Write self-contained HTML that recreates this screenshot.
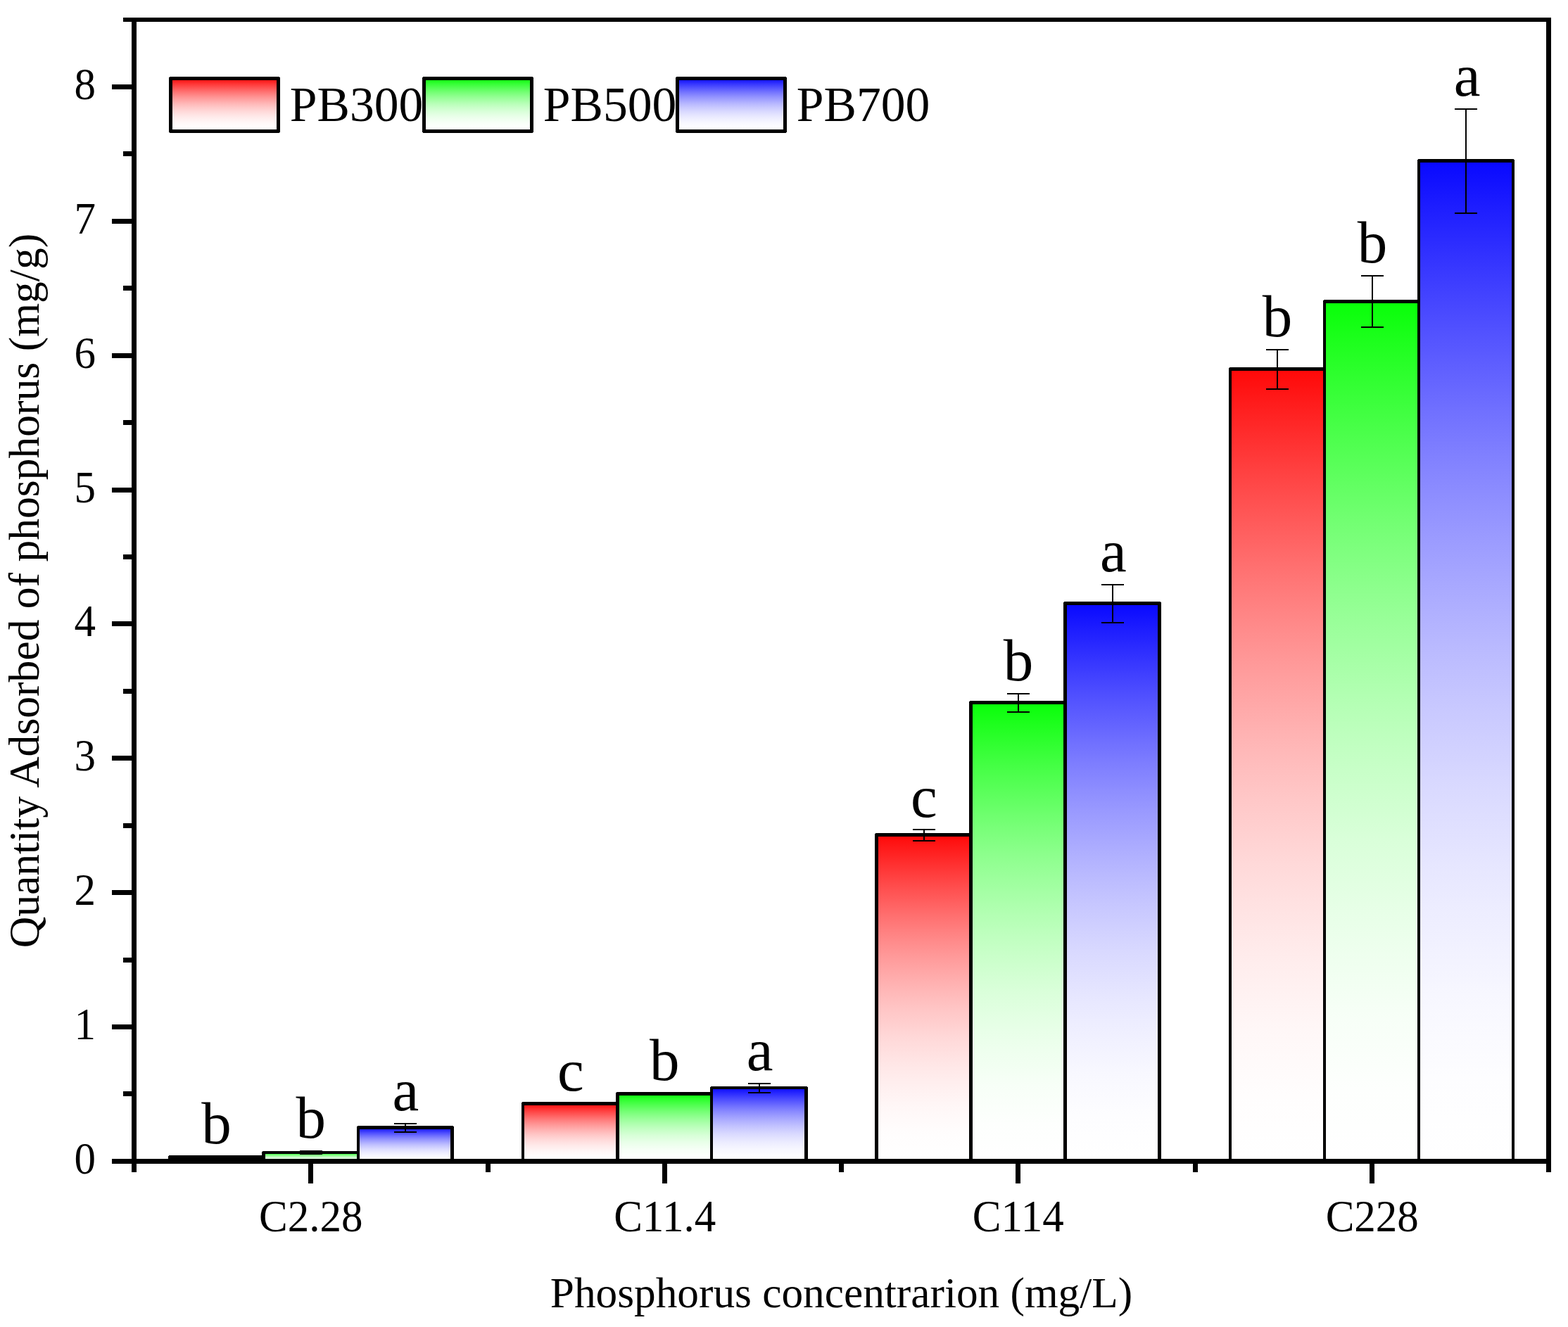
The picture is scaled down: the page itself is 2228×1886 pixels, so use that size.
<!DOCTYPE html>
<html lang="en"><head><meta charset="utf-8"><title>Quantity Adsorbed of phosphorus</title>
<style>
html,body{margin:0;padding:0;background:#fff;}
body{width:2228px;height:1886px;}
svg{display:block;}
text{font-family:"Liberation Serif","Times New Roman",Times,serif;fill:#000;}
.tk{font-size:61px;}
.tt{font-size:61.3px;text-anchor:middle;}
.lg{font-size:69.6px;}
.lt{font-size:85px;text-anchor:middle;}
.k{fill:#000;stroke:none;shape-rendering:crispEdges;}
.f{stroke:none;shape-rendering:crispEdges;}
</style></head><body>
<svg width="2228" height="1886" viewBox="0 0 2228 1886">
<defs>
<linearGradient id="gr" x1="0" y1="0" x2="0" y2="1">
<stop offset="0.0000" stop-color="#ff0808"/><stop offset="0.0417" stop-color="#ff1b1b"/><stop offset="0.0833" stop-color="#ff2d2d"/><stop offset="0.1250" stop-color="#ff3f3f"/><stop offset="0.1667" stop-color="#ff5050"/><stop offset="0.2083" stop-color="#ff6060"/><stop offset="0.2500" stop-color="#ff7070"/><stop offset="0.2917" stop-color="#ff7f7f"/><stop offset="0.3333" stop-color="#ff8d8d"/><stop offset="0.3750" stop-color="#ff9a9a"/><stop offset="0.4167" stop-color="#ffa6a6"/><stop offset="0.4583" stop-color="#ffb2b2"/><stop offset="0.5000" stop-color="#ffbdbd"/><stop offset="0.5417" stop-color="#ffc7c7"/><stop offset="0.5833" stop-color="#ffd0d0"/><stop offset="0.6250" stop-color="#ffd9d9"/><stop offset="0.6667" stop-color="#ffe0e0"/><stop offset="0.7083" stop-color="#ffe7e7"/><stop offset="0.7500" stop-color="#ffeded"/><stop offset="0.7917" stop-color="#fff2f2"/><stop offset="0.8333" stop-color="#fff7f7"/><stop offset="0.8750" stop-color="#fffafa"/><stop offset="0.9167" stop-color="#fffdfd"/><stop offset="0.9583" stop-color="#fffefe"/><stop offset="1.0000" stop-color="#ffffff"/>
</linearGradient>
<linearGradient id="gg" x1="0" y1="0" x2="0" y2="1">
<stop offset="0.0000" stop-color="#08ff08"/><stop offset="0.0417" stop-color="#1bff1b"/><stop offset="0.0833" stop-color="#2dff2d"/><stop offset="0.1250" stop-color="#3fff3f"/><stop offset="0.1667" stop-color="#50ff50"/><stop offset="0.2083" stop-color="#60ff60"/><stop offset="0.2500" stop-color="#70ff70"/><stop offset="0.2917" stop-color="#7fff7f"/><stop offset="0.3333" stop-color="#8dff8d"/><stop offset="0.3750" stop-color="#9aff9a"/><stop offset="0.4167" stop-color="#a6ffa6"/><stop offset="0.4583" stop-color="#b2ffb2"/><stop offset="0.5000" stop-color="#bdffbd"/><stop offset="0.5417" stop-color="#c7ffc7"/><stop offset="0.5833" stop-color="#d0ffd0"/><stop offset="0.6250" stop-color="#d9ffd9"/><stop offset="0.6667" stop-color="#e0ffe0"/><stop offset="0.7083" stop-color="#e7ffe7"/><stop offset="0.7500" stop-color="#edffed"/><stop offset="0.7917" stop-color="#f2fff2"/><stop offset="0.8333" stop-color="#f7fff7"/><stop offset="0.8750" stop-color="#fafffa"/><stop offset="0.9167" stop-color="#fdfffd"/><stop offset="0.9583" stop-color="#fefffe"/><stop offset="1.0000" stop-color="#ffffff"/>
</linearGradient>
<linearGradient id="gb" x1="0" y1="0" x2="0" y2="1">
<stop offset="0.0000" stop-color="#0808ff"/><stop offset="0.0417" stop-color="#1b1bff"/><stop offset="0.0833" stop-color="#2d2dff"/><stop offset="0.1250" stop-color="#3f3fff"/><stop offset="0.1667" stop-color="#5050ff"/><stop offset="0.2083" stop-color="#6060ff"/><stop offset="0.2500" stop-color="#7070ff"/><stop offset="0.2917" stop-color="#7f7fff"/><stop offset="0.3333" stop-color="#8d8dff"/><stop offset="0.3750" stop-color="#9a9aff"/><stop offset="0.4167" stop-color="#a6a6ff"/><stop offset="0.4583" stop-color="#b2b2ff"/><stop offset="0.5000" stop-color="#bdbdff"/><stop offset="0.5417" stop-color="#c7c7ff"/><stop offset="0.5833" stop-color="#d0d0ff"/><stop offset="0.6250" stop-color="#d9d9ff"/><stop offset="0.6667" stop-color="#e0e0ff"/><stop offset="0.7083" stop-color="#e7e7ff"/><stop offset="0.7500" stop-color="#ededff"/><stop offset="0.7917" stop-color="#f2f2ff"/><stop offset="0.8333" stop-color="#f7f7ff"/><stop offset="0.8750" stop-color="#fafaff"/><stop offset="0.9167" stop-color="#fdfdff"/><stop offset="0.9583" stop-color="#fefeff"/><stop offset="1.0000" stop-color="#ffffff"/>
</linearGradient>
</defs>
<rect x="0" y="0" width="2228" height="1886" fill="#ffffff"/>
<g class="f">
<rect x="241.5" y="1644.5" width="133" height="6" fill="url(#gr)"/>
<rect x="374.5" y="1638" width="134.5" height="12.5" fill="url(#gg)"/>
<rect x="509" y="1602.5" width="133.5" height="48" fill="url(#gb)"/>
<rect x="743" y="1568.5" width="134.5" height="82" fill="url(#gr)"/>
<rect x="877.5" y="1554.5" width="133.5" height="96" fill="url(#gg)"/>
<rect x="1011" y="1546" width="134.5" height="104.5" fill="url(#gb)"/>
<rect x="1245.5" y="1186.5" width="134" height="464" fill="url(#gr)"/>
<rect x="1379.5" y="998.5" width="134" height="652" fill="url(#gg)"/>
<rect x="1513.5" y="857.5" width="134" height="793" fill="url(#gb)"/>
<rect x="1748" y="524.5" width="134" height="1126" fill="url(#gr)"/>
<rect x="1882" y="428.5" width="134" height="1222" fill="url(#gg)"/>
<rect x="2016" y="228.5" width="134" height="1422" fill="url(#gb)"/>
</g>
<path class="k" d="M239 1642H377V1647H239ZM239 1642H244V1650H239ZM372 1642H377V1650H372ZM372 1636H511V1640H372ZM372 1636H377V1650H372ZM507 1636H511V1650H507ZM507 1600H645V1605H507ZM507 1600H511V1650H507ZM640 1600H645V1650H640ZM741 1566H880V1571H741ZM741 1566H745V1650H741ZM875 1566H880V1650H875ZM875 1552H1013V1557H875ZM875 1552H880V1650H875ZM1009 1552H1013V1650H1009ZM1009 1544H1148V1548H1009ZM1009 1544H1013V1650H1009ZM1143 1544H1148V1650H1143ZM1243 1184H1382V1189H1243ZM1243 1184H1248V1650H1243ZM1377 1184H1382V1650H1377ZM1377 996H1516V1001H1377ZM1377 996H1382V1650H1377ZM1511 996H1516V1650H1511ZM1511 855H1650V860H1511ZM1511 855H1516V1650H1511ZM1645 855H1650V1650H1645ZM1746 522H1884V527H1746ZM1746 522H1750V1650H1746ZM1880 522H1884V1650H1880ZM1880 426H2018V431H1880ZM1880 426H1884V1650H1880ZM2014 426H2018V1650H2014ZM2014 226H2152V231H2014ZM2014 226H2018V1650H2014ZM2148 226H2152V1650H2148Z"/>
<path class="k" d="M426 1635H458V1637H426ZM426 1639H458V1641H426ZM441 1635H443V1641H441ZM560 1596H592V1598H560ZM560 1608H592V1610H560ZM575 1596H577V1610H575ZM1063 1539H1095V1541H1063ZM1063 1552H1095V1554H1063ZM1078 1539H1080V1554H1078ZM1297 1178H1329V1180H1297ZM1297 1194H1329V1196H1297ZM1312 1178H1314V1196H1312ZM1431 985H1463V987H1431ZM1431 1011H1463V1013H1431ZM1446 985H1448V1013H1446ZM1565 830H1597V832H1565ZM1565 884H1597V886H1565ZM1580 830H1582V886H1580ZM1799 496H1831V498H1799ZM1799 552H1831V554H1799ZM1814 496H1816V554H1814ZM1934 391H1966V393H1934ZM1934 464H1966V466H1934ZM1949 391H1951V466H1949ZM2067 154H2099V156H2067ZM2067 302H2099V304H2067ZM2082 154H2084V304H2082Z"/>
<path class="k" d="M175 25H2204V31H175ZM159 1647H2204V1654H159ZM187 25H194V1666H187ZM2197 25H2204V1666H2197ZM159 1456H187V1463H159ZM159 1265H187V1272H159ZM159 1074H187V1081H159ZM159 883H187V890H159ZM159 693H187V700H159ZM159 502H187V509H159ZM159 311H187V318H159ZM159 120H187V127H159ZM175 1551H187V1558H175ZM175 1361H187V1368H175ZM175 1170H187V1177H175ZM175 979H187V986H175ZM175 788H187V795H175ZM175 597H187V604H175ZM175 406H187V413H175ZM175 215H187V222H175ZM438 1654H445V1682H438ZM941 1654H948V1682H941ZM1443 1654H1450V1682H1443ZM1946 1654H1953V1682H1946ZM690 1654H697V1666H690ZM1192 1654H1199V1666H1192ZM1695 1654H1702V1666H1695Z"/>
<g class="tk" text-anchor="end">
<text transform="translate(136 1668.00) scale(1 1.04)">0</text>
<text transform="translate(136 1477.00) scale(1 1.04)">1</text>
<text transform="translate(136 1286.00) scale(1 1.04)">2</text>
<text transform="translate(136 1095.00) scale(1 1.04)">3</text>
<text transform="translate(136 904.00) scale(1 1.04)">4</text>
<text transform="translate(136 714.00) scale(1 1.04)">5</text>
<text transform="translate(136 523.00) scale(1 1.04)">6</text>
<text transform="translate(136 332.00) scale(1 1.04)">7</text>
<text transform="translate(136 141.00) scale(1 1.04)">8</text>
</g>
<g class="tk" text-anchor="middle">
<text transform="translate(441.75 1750) scale(1 1.04)">C2.28</text>
<text transform="translate(944.75 1750) scale(1 1.04)">C11.4</text>
<text transform="translate(1446.75 1750) scale(1 1.04)">C114</text>
<text transform="translate(1949.75 1750) scale(1 1.04)">C228</text>
</g>
<text class="tt" x="1195.5" y="1858.2">Phosphorus concentrarion (mg/L)</text>
<text class="tt" style="font-size:61.55px" transform="translate(55 839.5) rotate(-90)">Quantity Adsorbed of phosphorus (mg/g)</text>
<g class="lt">
<text x="307.50" y="1625.30">b</text>
<text x="441.70" y="1617.00">b</text>
<text x="576.40" y="1578.10">a</text>
<text x="810.90" y="1550.20">c</text>
<text x="944.20" y="1535.30">b</text>
<text x="1079.50" y="1521.30">a</text>
<text x="1312.80" y="1161.20">c</text>
<text x="1446.90" y="967.20">b</text>
<text x="1581.80" y="811.90">a</text>
<text x="1815.00" y="478.20">b</text>
<text x="1950.00" y="372.90">b</text>
<text x="2084.50" y="136.10">a</text>
</g>
<rect class="f" x="242.5" y="111.5" width="153" height="75" fill="url(#gr)"/>
<rect class="f" x="602.5" y="111.5" width="153" height="75" fill="url(#gg)"/>
<rect class="f" x="962.5" y="111.5" width="153" height="75" fill="url(#gb)"/>
<path class="k" d="M240 109H398V114H240ZM240 184H398V189H240ZM240 109H245V189H240ZM393 109H398V189H393ZM600 109H758V114H600ZM600 184H758V189H600ZM600 109H605V189H600ZM753 109H758V189H753ZM960 109H1118V114H960ZM960 184H1118V189H960ZM960 109H965V189H960ZM1113 109H1118V189H1113Z"/>
<path class="f" fill="#ffffff" d="M239 1642H240V1643H239ZM372 1636H373V1637H372ZM507 1600H508V1601H507ZM644 1600H645V1601H644ZM741 1566H742V1567H741ZM875 1552H876V1553H875ZM1009 1544H1010V1545H1009ZM1147 1544H1148V1545H1147ZM1243 1184H1244V1185H1243ZM1377 996H1378V997H1377ZM1511 855H1512V856H1511ZM1649 855H1650V856H1649ZM1746 522H1747V523H1746ZM1880 426H1881V427H1880ZM2014 226H2015V227H2014ZM2151 226H2152V227H2151ZM240 109H241V110H240ZM397 109H398V110H397ZM240 188H241V189H240ZM397 188H398V189H397ZM600 109H601V110H600ZM757 109H758V110H757ZM600 188H601V189H600ZM757 188H758V189H757ZM960 109H961V110H960ZM1117 109H1118V110H1117ZM960 188H961V189H960ZM1117 188H1118V189H1117Z"/>
<text class="lg" x="411.80" y="171.5">PB300</text>
<text class="lg" x="771.80" y="171.5">PB500</text>
<text class="lg" x="1131.80" y="171.5">PB700</text>
</svg>
</body></html>
